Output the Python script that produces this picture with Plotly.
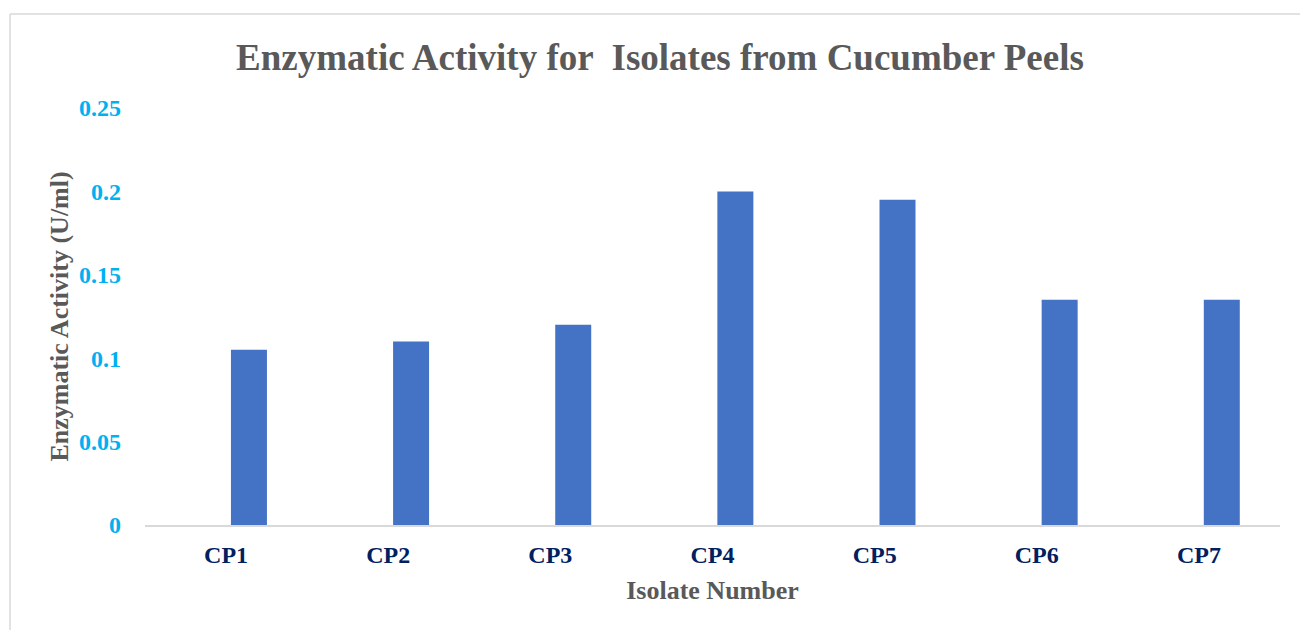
import plotly.graph_objects as go

# Isolates and their measured enzymatic activity (U/ml)
isolates = ["CP1", "CP2", "CP3", "CP4", "CP5", "CP6", "CP7"]
activity = [0.105, 0.11, 0.12, 0.2, 0.195, 0.135, 0.135]
y_ticks = [0, 0.05, 0.1, 0.15, 0.2, 0.25]
y_tick_text = ["0", "0.05", "0.1", "0.15", "0.2", "0.25"]

W, H = 1300, 630
L, R, T, B = 145, 20, 108, 105
pw, ph = W - L - R, H - T - B

def px_x(x):
    return (x - L) / pw

def px_y(y):
    return (H - B - y) / ph

SERIF = "Liberation Serif, Times New Roman, serif"

fig = go.Figure(
    go.Bar(
        x=isolates,
        y=activity,
        width=0.222,
        offset=0.03,
        marker=dict(color="#4472C4", line=dict(width=0)),
        hoverinfo="x+y",
    )
)

fig.update_layout(
    width=W,
    height=H,
    margin=dict(l=L, r=R, t=T, b=B),
    paper_bgcolor="white",
    plot_bgcolor="white",
    showlegend=False,
    font=dict(family=SERIF),
    title=dict(
        text="<b>Enzymatic Activity for  Isolates from Cucumber Peels</b>",
        font=dict(family=SERIF, size=37, color="#595959"),
        x=660 / W,
        xanchor="center",
        y=1 - 57 / H,
        yanchor="middle",
    ),
    xaxis=dict(
        range=[-0.5, 6.5],
        showgrid=False,
        showline=True,
        linecolor="#D9D9D9",
        linewidth=2,
        zeroline=False,
        ticks="",
        tickfont=dict(family=SERIF, size=24, color="#002060", weight="bold"),
        ticklabelstandoff=7,
        title=dict(
            text="<b>Isolate Number</b>",
            font=dict(family=SERIF, size=26, color="#595959"),
            standoff=14,
        ),
    ),
    yaxis=dict(
        range=[0, 0.25],
        tickvals=y_ticks,
        ticktext=y_tick_text,
        showgrid=False,
        showline=False,
        zeroline=False,
        ticks="",
        tickfont=dict(family=SERIF, size=24, color="#00B0F0", weight="bold"),
        ticklabelstandoff=23,
        title=dict(
            text="<b>Enzymatic Activity (U/ml)</b>",
            font=dict(family=SERIF, size=26, color="#595959"),
            standoff=2,
        ),
    ),
    shapes=[
        # chart frame (top and left edges)
        dict(type="line", xref="paper", yref="paper",
             x0=px_x(10), x1=px_x(W), y0=px_y(14), y1=px_y(14),
             line=dict(color="#D9D9D9", width=1.5)),
        dict(type="line", xref="paper", yref="paper",
             x0=px_x(10), x1=px_x(10), y0=px_y(14), y1=px_y(H),
             line=dict(color="#D9D9D9", width=1.5)),
    ],
)

fig.write_html("out.html")
